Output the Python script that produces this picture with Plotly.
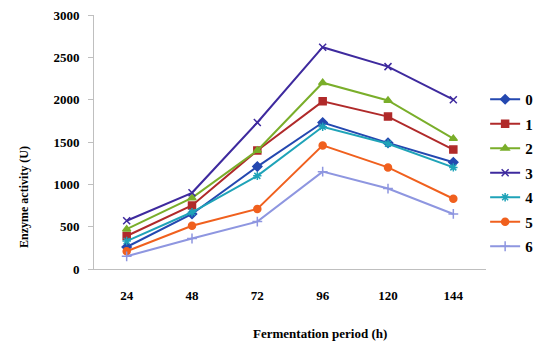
import plotly.graph_objects as go

periods = ["24", "48", "72", "96", "120", "144"]
series_names = ["0", "1", "2", "3", "4", "5", "6"]
s0 = [260, 650, 1210, 1730, 1490, 1260]
s1 = [390, 750, 1400, 1980, 1800, 1410]
s2 = [470, 840, 1400, 2200, 1990, 1540]
s3 = [570, 900, 1730, 2620, 2390, 2000]
s4 = [330, 670, 1100, 1680, 1480, 1200]
s5 = [210, 510, 710, 1460, 1200, 830]
s6 = [150, 360, 560, 1150, 950, 650]
values = [s0, s1, s2, s3, s4, s5, s6]

colors = ["#2448B0", "#B02A2A", "#7AAE2A", "#3E2A9E", "#1FA3B8", "#F0601E", "#8E96E0"]
symbols = ["diamond", "square", "triangle-up", "x-thin-open", "asterisk-open", "circle", "cross-thin-open"]

fig = go.Figure()
for name, vals, c, sym in zip(series_names, values, colors, symbols):
    fig.add_trace(go.Scatter(
        x=periods, y=vals, name="<b>" + name + "</b>", mode="lines+markers",
        legendgroup=name,
        line=dict(color=c, width=2),
        marker=dict(symbol=sym, size=7, color=c, line=dict(color=c, width=1.5)),
    ))

font_family = "Liberation Serif"
# page has an 8px body margin, so the figure is sized to fit inside the window
W, H = 533, 335
L, R, T, B = 86, 55, 7, 74
PW, PH = W - L - R, H - T - B
fig.update_layout(
    width=W, height=H,
    margin=dict(l=L, r=R, t=T, b=B, autoexpand=False),
    paper_bgcolor="white", plot_bgcolor="white",
    font=dict(family=font_family, size=12, color="black"),
    showlegend=True,
    legend=dict(x=1.133, y=(261 - 165) / PH, xanchor="right", yanchor="middle",
                font=dict(family=font_family, size=15, color="black"),
                itemwidth=30, tracegroupgap=2, bgcolor="rgba(0,0,0,0)"),
    xaxis=dict(
        type="category", range=[-0.5, len(periods) - 0.5],
        showgrid=False, showline=True, linecolor="#BFBFBF",
        linewidth=1, ticks="", ticklabelstandoff=14, automargin=False,
        tickfont=dict(family=font_family, size=13, color="black", weight="bold"),
    ),
    yaxis=dict(
        range=[0, 3000], dtick=500, showgrid=False, showline=True,
        linecolor="#BFBFBF", linewidth=1, ticks="outside", ticklen=5,
        tickcolor="#BFBFBF", zeroline=False, ticklabelstandoff=6, automargin=False,
        ticklabeloverflow="allow",
        tickfont=dict(family=font_family, size=13, color="black", weight="bold"),
    ),
    annotations=[
        dict(text="<b>Fermentation period (h)</b>", xref="paper", yref="paper",
             x=(312 - L) / PW, y=-(325 - 261) / PH, xanchor="center", yanchor="middle",
             showarrow=False, font=dict(family=font_family, size=13, color="black")),
        dict(text="<b>Enzyme activity (U)</b>", xref="paper", yref="paper",
             x=-(L - 16) / PW, y=(261 - 189) / PH, xanchor="center", yanchor="middle",
             textangle=-90, showarrow=False,
             font=dict(family=font_family, size=12, color="black")),
    ],
)

fig.write_html("out.html")
